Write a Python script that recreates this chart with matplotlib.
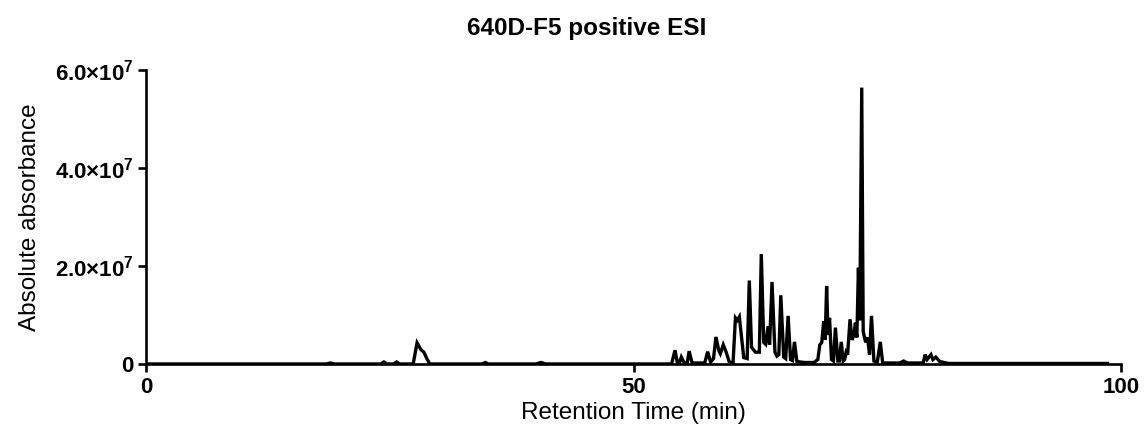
import matplotlib.pyplot as plt

plt.rcParams['font.family'] = ['Liberation Sans', 'DejaVu Sans']
plt.rcParams['mathtext.fontset'] = 'custom'
plt.rcParams['mathtext.rm'] = 'Liberation Sans'
plt.rcParams['mathtext.bf'] = 'Liberation Sans:bold'
plt.rcParams['mathtext.default'] = 'bf'

# chromatogram vertices (time in min, signal in 1e7 units)
rt = [0.0, 18.5, 18.9, 19.3, 24.1, 24.4, 24.7, 25.4, 25.7, 26.0,
      27.4, 27.8, 28.2, 28.5, 28.8, 29.1, 34.5, 34.8, 35.1, 40.0,
      40.5, 41.0, 53.9, 54.25, 54.5, 54.7, 54.9, 55.2, 55.5, 55.7,
      56.0, 57.3, 57.6, 57.9, 58.2, 58.45, 58.75, 58.9, 59.2, 59.5,
      59.8, 60.2, 60.45, 60.65, 60.85, 61.3, 61.65, 61.87, 62.1, 62.5,
      62.9, 63.1, 63.35, 63.55, 63.8, 63.95, 64.2, 64.5, 64.7, 64.9,
      65.1, 65.4, 65.6, 65.85, 66.1, 66.3, 66.5, 66.75, 67.5, 68.5,
      68.9, 69.1, 69.3, 69.5, 69.65, 69.8, 69.95, 70.1, 70.3, 70.5,
      70.7, 70.95, 71.1, 71.3, 71.5, 71.65, 71.8, 71.95, 72.2, 72.4,
      72.6, 72.75, 72.9, 73.06, 73.2, 73.4, 73.55, 73.8, 74.0, 74.2,
      74.4, 74.65, 75.0, 75.3, 75.55, 77.3, 77.7, 78.1, 79.7, 79.9,
      80.1, 80.5, 80.7, 81.0, 81.4, 82.3, 98.6]
signal = [0.01, 0.01, 0.03, 0.01, 0.01, 0.05, 0.01, 0.01, 0.05, 0.01,
          0.01, 0.44, 0.30, 0.25, 0.12, 0.01, 0.01, 0.04, 0.01, 0.01,
          0.04, 0.01, 0.01, 0.29, 0.03, 0.03, 0.15, 0.03, 0.03, 0.27,
          0.03, 0.03, 0.26, 0.05, 0.12, 0.56, 0.28, 0.22, 0.40, 0.25,
          0.06, 0.02, 0.95, 0.90, 0.97, 0.14, 0.12, 1.71, 0.35, 0.25,
          0.25, 2.25, 0.45, 0.41, 0.78, 0.40, 1.68, 0.25, 0.17, 0.20,
          1.41, 0.15, 0.12, 0.99, 0.10, 0.08, 0.46, 0.06, 0.04, 0.04,
          0.10, 0.40, 0.45, 0.88, 0.50, 1.60, 0.60, 0.95, 0.10, 0.07,
          0.75, 0.07, 0.07, 0.46, 0.07, 0.10, 0.25, 0.20, 0.92, 0.50,
          0.60, 0.85, 0.55, 1.97, 0.90, 5.64, 0.67, 0.45, 0.55, 0.20,
          0.99, 0.07, 0.05, 0.46, 0.03, 0.03, 0.07, 0.03, 0.03, 0.20,
          0.10, 0.20, 0.10, 0.15, 0.06, 0.02, 0.02]
signal = [s * 1e7 for s in signal]

xticks = [0, 50, 100]
yticks = [0, 2e7, 4e7, 6e7]
ytick_labels = ['0', '2.0×10$^7$', '4.0×10$^7$', '6.0×10$^7$']

fig = plt.figure(figsize=(11.44, 4.37), dpi=100)
ax = fig.add_axes([0.1276, 0.166, 0.8524, 0.674])

ax.plot(rt, signal, color='black', lw=2.4, solid_joinstyle='miter')

ax.set_xlim(0, 100)
ax.set_ylim(0, 6e7)
ax.set_xticks(xticks)
ax.set_xticklabels([str(t) for t in xticks], fontweight='bold', fontsize=16)
ax.set_yticks(yticks)
ax.set_yticklabels(ytick_labels, fontweight='bold', fontsize=16)
ax.tick_params(width=1.9, length=6, direction='out', pad=3)

for side in ['top', 'right']:
    ax.spines[side].set_visible(False)
for side in ['left', 'bottom']:
    ax.spines[side].set_linewidth(1.9)

ax.set_xlabel('Retention Time (min)', fontsize=17.5, labelpad=3)
ax.set_ylabel('Absolute absorbance', fontsize=17.5, labelpad=10)
fig.text(587 / 1144, 1 - 28 / 437, '640D-F5 positive ESI', ha='center', va='center',
         fontsize=17.5, fontweight='bold')

fig.savefig('out.png', dpi=100)
